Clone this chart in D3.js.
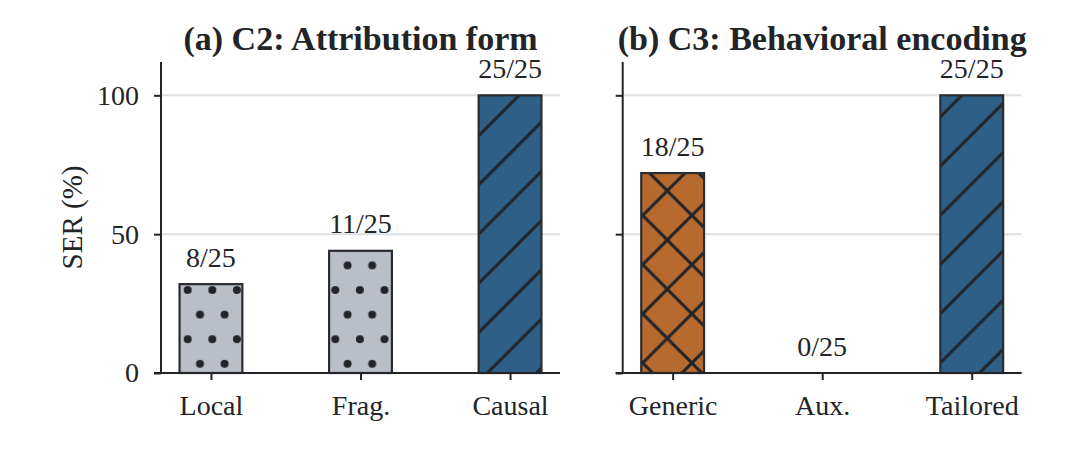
<!DOCTYPE html>
<html>
<head>
<meta charset="utf-8">
<script src="https://cdn.jsdelivr.net/npm/d3@7"></script>
<style>
  html, body { margin: 0; padding: 0; background: #fff; }
  svg { display: block; font-family: "Liberation Serif", "Times New Roman", serif; }
</style>
</head>
<body>
<div id="chart"></div>
<script>
// data
const yTicks = [0, 50, 100];
const yLabel = "SER (%)";

const c2Title = "(a) C2: Attribution form";
const c2Categories = ["Local", "Frag.", "Causal"];
const c2Values = [32, 44, 100];
const c2Counts = ["8/25", "11/25", "25/25"];

const c3Title = "(b) C3: Behavioral encoding";
const c3Categories = ["Generic", "Aux.", "Tailored"];
const c3Values = [72, 0, 100];
const c3Counts = ["18/25", "0/25", "25/25"];

// look of each bar kind
const barStyle = {
    Local: { fill: "#b9bec7", hatch: "dots" },
    "Frag.": { fill: "#b9bec7", hatch: "dots" },
    Causal: { fill: "#2d5f87", hatch: "diag" },
    Generic: { fill: "#b76a2e", hatch: "cross" },
    "Aux.": { fill: "#b9bec7", hatch: "dots" },
    Tailored: { fill: "#2d5f87", hatch: "diag" }
};

const width = 1080;
const height = 455;
const ink = "#222428";
const serif = '"Liberation Serif", "Times New Roman", serif';
const plotTop = 62, plotBottom = 373;
const P = 49.2; // hatch period

const svg = d3.select("#chart")
    .append("svg")
    .attr("width", width)
    .attr("height", height)
    .attr("viewBox", `0 0 ${width} ${height}`);

const defs = svg.append("defs");

// "/" hatch
const diag = defs.append("pattern")
    .attr("id", "hatch-diag")
    .attr("patternUnits", "userSpaceOnUse")
    .attr("x", 24).attr("y", 0)
    .attr("width", P).attr("height", P);
diag.append("path")
    .attr("d", `M0,${P} L${P},0 M-2,2 L2,-2 M${P - 2},${P + 2} L${P + 2},${P - 2}`)
    .attr("stroke", ink).attr("stroke-width", 3);

// "x" hatch
const cross = defs.append("pattern")
    .attr("id", "hatch-cross")
    .attr("patternUnits", "userSpaceOnUse")
    .attr("x", 27.7).attr("y", -6)
    .attr("width", P).attr("height", P);
cross.append("path")
    .attr("d", `M0,${P} L${P},0 M-2,2 L2,-2 M${P - 2},${P + 2} L${P + 2},${P - 2}` +
        ` M0,0 L${P},${P} M-2,${P - 2} L2,${P + 2} M${P - 2},-2 L${P + 2},2`)
    .attr("stroke", ink).attr("stroke-width", 3);

// "." hatch
const dots = defs.append("pattern")
    .attr("id", "hatch-dots")
    .attr("patternUnits", "userSpaceOnUse")
    .attr("x", 187.7).attr("y", 290)
    .attr("width", P / 2).attr("height", P);
[[0, 0], [P / 2, 0], [0, P], [P / 2, P], [P / 4, P / 2]].forEach(([cx, cy]) => {
    dots.append("circle").attr("cx", cx).attr("cy", cy).attr("r", 4).attr("fill", ink);
});

const yScale = d3.scaleLinear()
    .domain([0, 112])
    .range([plotBottom, plotTop]);

function renderPanel(left, right, title, categories, values, counts, showYLabels) {
    const g = svg.append("g");

    const xScale = d3.scalePoint()
        .domain(categories)
        .range([left, right])
        .padding(0.334);
    const barW = xScale.step() * 0.42;

    // grid
    g.append("g")
        .selectAll("line")
        .data(yTicks.filter(d => d > 0))
        .join("line")
        .attr("x1", left)
        .attr("x2", right)
        .attr("y1", d => yScale(d))
        .attr("y2", d => yScale(d))
        .attr("stroke", "#dde0e5")
        .attr("stroke-width", 2);

    const rows = categories.map((c, i) => ({ cat: c, value: values[i], count: counts[i] }));

    // bars: colour first, hatch on top
    const bars = g.append("g");
    bars.selectAll("rect.fill")
        .data(rows.filter(d => d.value > 0))
        .join("rect")
        .attr("class", "fill")
        .attr("x", d => xScale(d.cat) - barW / 2)
        .attr("width", barW)
        .attr("y", d => yScale(d.value))
        .attr("height", d => yScale(0) - yScale(d.value))
        .attr("fill", d => barStyle[d.cat].fill);
    bars.selectAll("rect.hatch")
        .data(rows.filter(d => d.value > 0))
        .join("rect")
        .attr("class", "hatch")
        .attr("x", d => xScale(d.cat) - barW / 2)
        .attr("width", barW)
        .attr("y", d => yScale(d.value))
        .attr("height", d => yScale(0) - yScale(d.value))
        .attr("fill", d => `url(#hatch-${barStyle[d.cat].hatch})`)
        .attr("stroke", "#2a2c30")
        .attr("stroke-width", 2.2);

    // counts above bars
    g.append("g")
        .selectAll("text")
        .data(rows)
        .join("text")
        .attr("x", d => xScale(d.cat))
        .attr("y", d => yScale(d.value) - 17.5)
        .attr("text-anchor", "middle")
        .attr("fill", ink)
        .style("font-size", "28px")
        .text(d => d.count);

    // y axis
    const yAxis = d3.axisLeft(yScale)
        .tickValues(yTicks)
        .tickSize(7)
        .tickPadding(15)
        .tickFormat(showYLabels ? d3.format("d") : "");
    const ya = g.append("g")
        .attr("transform", `translate(${left},0)`)
        .call(yAxis)
        .attr("font-family", serif);
    ya.select(".domain").remove();
    ya.selectAll("line").attr("stroke", ink).attr("stroke-width", 2);
    ya.selectAll("text")
        .attr("fill", ink)
        .style("font-size", "28px");
    g.append("line")
        .attr("x1", left).attr("x2", left)
        .attr("y1", plotTop).attr("y2", plotBottom + 1)
        .attr("stroke", ink).attr("stroke-width", 2);

    // x axis
    const xAxis = d3.axisBottom(xScale).tickSize(7).tickPadding(15);
    const xa = g.append("g")
        .attr("transform", `translate(0,${plotBottom})`)
        .call(xAxis)
        .attr("font-family", serif);
    xa.select(".domain").remove();
    xa.selectAll("line").attr("stroke", ink).attr("stroke-width", 2);
    xa.selectAll("text")
        .attr("fill", ink)
        .style("font-size", "28px");
    g.append("line")
        .attr("x1", left - 7).attr("x2", right)
        .attr("y1", plotBottom).attr("y2", plotBottom)
        .attr("stroke", ink).attr("stroke-width", 2);

    // title
    g.append("text")
        .attr("x", (left + right) / 2)
        .attr("y", 50)
        .attr("text-anchor", "middle")
        .attr("fill", ink)
        .style("font-size", "34px")
        .style("font-weight", "bold")
        .text(title);
}

renderPanel(161, 560, c2Title, c2Categories, c2Values, c2Counts, true);
renderPanel(622.7, 1021.7, c3Title, c3Categories, c3Values, c3Counts, false);

svg.append("text")
    .attr("transform", `translate(82,${(plotTop + plotBottom) / 2}) rotate(-90)`)
    .attr("text-anchor", "middle")
    .attr("fill", ink)
    .style("font-size", "29px")
    .text(yLabel);
</script>
</body>
</html>
